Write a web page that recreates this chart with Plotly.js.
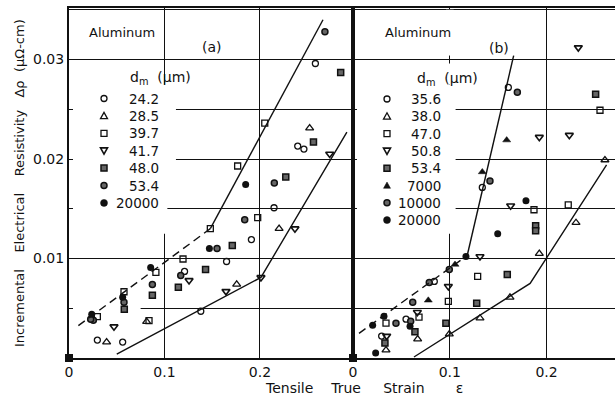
<!DOCTYPE html>
<html>
<head>
<meta charset="utf-8">
<script src="https://cdn.plot.ly/plotly-3.0.1.min.js"></script>
<style>html,body{margin:0;padding:0;background:#fff;}#chart{width:615px;height:399px;}</style>
</head>
<body>
<div id="chart"></div>
<script>
// ---------- Panel (a) data ----------
const aLabels = ["24.2", "28.5", "39.7", "41.7", "48.0", "53.4", "20000"];
const a242x = [0.258, 0.2395, 0.246, 0.2147, 0.191, 0.165, 0.121, 0.138, 0.0297, 0.0562];
const a242y = [0.0296, 0.0213, 0.0210, 0.0151, 0.0119, 0.0097, 0.0087, 0.0047, 0.0018, 0.0016];
const a285x = [0.252, 0.220, 0.1756, 0.0813, 0.0394];
const a285y = [0.0231, 0.0130, 0.0074, 0.00365, 0.0016];
const a397x = [0.205, 0.1766, 0.1976, 0.148, 0.1194, 0.091, 0.0838, 0.0576, 0.0297];
const a397y = [0.0236, 0.0193, 0.0141, 0.0130, 0.00995, 0.0086, 0.00375, 0.00666, 0.00415];
const a417x = [0.273, 0.2366, 0.201, 0.1644, 0.1257, 0.0471];
const a417y = [0.0205, 0.0130, 0.0081, 0.0067, 0.0078, 0.00315];
const a480x = [0.2845, 0.256, 0.227, 0.171, 0.143, 0.1145, 0.0873, 0.0579];
const a480y = [0.0287, 0.0217, 0.0182, 0.0113, 0.0089, 0.0071, 0.0063, 0.0049];
const a534x = [0.268, 0.215, 0.184, 0.155, 0.117, 0.0873, 0.0576, 0.0255, 0.0227];
const a534y = [0.0328, 0.0176, 0.0139, 0.0110, 0.0083, 0.0074, 0.0056, 0.0038, 0.0039];
const a20000x = [0.185, 0.147, 0.0855, 0.0562, 0.0238];
const a20000y = [0.01745, 0.0110, 0.0091, 0.0061, 0.0044];
const aUpperDashX = [0.0098, 0.148], aUpperDashY = [0.00325, 0.0130];
const aUpperSolidX = [0.148, 0.266], aUpperSolidY = [0.0130, 0.0340];
const aLowerX = [0.050, 0.201, 0.291], aLowerY = [0.0004, 0.0081, 0.0227];

// ---------- Panel (b) data ----------
const bLabels = ["35.6", "38.0", "47.0", "50.8", "53.4", "7000", "10000", "20000"];
const b356x = [0.1605, 0.1336, 0.084, 0.0548, 0.0296];
const b356y = [0.0272, 0.01715, 0.0077, 0.0039, 0.0022];
const b380x = [0.2603, 0.2304, 0.1925, 0.1622, 0.1312, 0.0995, 0.0668, 0.0341];
const b380y = [0.0199, 0.0136, 0.0105, 0.0061, 0.0040, 0.0024, 0.0019, 0.0008];
const b470x = [0.2552, 0.187, 0.2224, 0.1288, 0.0985, 0.0682, 0.0341];
const b470y = [0.0249, 0.0149, 0.0154, 0.0082, 0.0057, 0.0041, 0.0035];
const b508x = [0.2328, 0.1925, 0.2235, 0.1629, 0.1312, 0.0985, 0.0665, 0.0348];
const b508y = [0.0312, 0.0222, 0.0224, 0.0153, 0.0102, 0.0072, 0.0046, 0.0022];
const b534x = [0.2507, 0.1887, 0.1887, 0.1594, 0.1278, 0.096, 0.064, 0.033];
const b534y = [0.0265, 0.0133, 0.0128, 0.0084, 0.0055, 0.0035, 0.00265, 0.0015];
const b7000x = [0.1588, 0.1336, 0.1054, 0.0778];
const b7000y = [0.0219, 0.0187, 0.0094, 0.0058];
const b10000x = [0.1698, 0.1415, 0.0995, 0.0788, 0.0617, 0.0444, 0.0596];
const b10000y = [0.0267, 0.0178, 0.0089, 0.0076, 0.0056, 0.0035, 0.0037];
const b20000x = [0.1787, 0.1495, 0.1167, 0.032, 0.0203, 0.0589, 0.0234];
const b20000y = [0.0158, 0.0125, 0.0102, 0.0042, 0.0033, 0.0032, 0.0005];
const bUpperDashX = [0.0062, 0.118], bUpperDashY = [0.00248, 0.0103];
const bUpperSolidX = [0.118, 0.166], bUpperSolidY = [0.0103, 0.0304];
const bLowerX = [0.063, 0.183, 0.262], bLowerY = [0.0001, 0.0075, 0.0194];

const originX = [0], originY = [0];
const xTickVals = [0, 0.1, 0.2], xTickText = ["0", "0.1", "0.2"];
const yTickVals = [0.01, 0.02, 0.03], yTickText = ["0.01", "0.02", "0.03"];

const INK = "#111";
const FONT = "DejaVu Sans";
const ML = 69, MT = 8, PW = 546, PH = 350;
const PX = p => (p - ML) / PW;          // pixel x -> paper x
const PY = p => (MT + PH - p) / PH;     // pixel y -> paper y

const styles = {
  openCircle: {symbol: "circle-open", size: 6, color: INK, line: {width: 1.3, color: INK}},
  openTriUp: {symbol: "triangle-up-open", size: 7, color: INK, line: {width: 1.3, color: INK}},
  openSquare: {symbol: "square-open", size: 6, color: INK, line: {width: 1.3, color: INK}},
  openTriDown: {symbol: "triangle-down-open", size: 7, color: INK, line: {width: 1.6, color: INK}},
  darkSquare: {symbol: "square", size: 6, color: "#666", line: {width: 1.5, color: INK}},
  dotCircle: {symbol: "circle", size: 6, color: "#666", line: {width: 1.5, color: INK}},
  filledCircle: {symbol: "circle", size: 7, color: INK, line: {width: 0, color: INK}},
  filledTriUp: {symbol: "triangle-up", size: 7, color: INK, line: {width: 0.5, color: INK}}
};

function pts(name, x, y, style, xa, ya) {
  return {type: "scatter", mode: "markers", name: name, x: x, y: y,
    xaxis: xa, yaxis: ya, marker: styles[style], cliponaxis: false, showlegend: false};
}
function line(x, y, xa, ya, dash) {
  return {type: "scatter", mode: "lines", x: x, y: y, xaxis: xa, yaxis: ya,
    showlegend: false, hoverinfo: "skip", line: {color: INK, width: 1.4, dash: dash}};
}

const aStyles = ["openCircle", "openTriUp", "openSquare", "openTriDown", "darkSquare", "dotCircle", "filledCircle"];
const bStyles = ["openCircle", "openTriUp", "openSquare", "openTriDown", "darkSquare", "filledTriUp", "dotCircle", "filledCircle"];

const data = [
  pts(aLabels[0], a242x, a242y, aStyles[0], "x", "y"),
  pts(aLabels[1], a285x, a285y, aStyles[1], "x", "y"),
  pts(aLabels[2], a397x, a397y, aStyles[2], "x", "y"),
  pts(aLabels[3], a417x, a417y, aStyles[3], "x", "y"),
  pts(aLabels[4], a480x, a480y, aStyles[4], "x", "y"),
  pts(aLabels[5], a534x, a534y, aStyles[5], "x", "y"),
  pts(aLabels[6], a20000x, a20000y, aStyles[6], "x", "y"),
  line(aUpperDashX, aUpperDashY, "x", "y", "8px,5px"),
  line(aUpperSolidX, aUpperSolidY, "x", "y", "solid"),
  line(aLowerX, aLowerY, "x", "y", "solid"),
  pts(bLabels[0], b356x, b356y, bStyles[0], "x2", "y2"),
  pts(bLabels[1], b380x, b380y, bStyles[1], "x2", "y2"),
  pts(bLabels[2], b470x, b470y, bStyles[2], "x2", "y2"),
  pts(bLabels[3], b508x, b508y, bStyles[3], "x2", "y2"),
  pts(bLabels[4], b534x, b534y, bStyles[4], "x2", "y2"),
  pts(bLabels[5], b7000x, b7000y, bStyles[5], "x2", "y2"),
  pts(bLabels[6], b10000x, b10000y, bStyles[6], "x2", "y2"),
  pts(bLabels[7], b20000x, b20000y, bStyles[7], "x2", "y2"),
  line(bUpperDashX, bUpperDashY, "x2", "y2", "8px,5px"),
  line(bUpperSolidX, bUpperSolidY, "x2", "y2", "solid"),
  line(bLowerX, bLowerY, "x2", "y2", "solid"),
  {type: "scatter", mode: "markers", x: originX, y: originY, xaxis: "x", yaxis: "y", showlegend: false,
    cliponaxis: false, marker: {symbol: "square", size: 8, color: INK}},
  {type: "scatter", mode: "markers", x: originX, y: originY, xaxis: "x2", yaxis: "y2", showlegend: false,
    cliponaxis: false, marker: {symbol: "square", size: 8, color: INK}}
];

// ---------- grid gaps behind the legend blocks (as in the original drawing) ----------
function gap(xref, yref, x0, x1, y0, y1) {
  return {type: "rect", xref: xref, yref: yref, x0: x0, x1: x1, y0: y0, y1: y1,
    fillcolor: "#fff", line: {width: 0}, layer: "between"};
}
const shapes = [
  gap("x", "y", 0.003, 0.112, 0.0175, 0.0275),
  gap("x", "y", 0.003, 0.103, 0.0125, 0.0175),
  gap("x", "y", 0.003, 0.075, 0.0047, 0.0053),
  gap("x2", "y2", 0.003, 0.106, 0.0125, 0.0275),
  gap("x2", "y2", 0.096, 0.104, 0.0275, 0.0296),
  gap("x2", "y2", 0.096, 0.104, 0.0304, 0.0350)
];

// ---------- hand-built legends (symbol shapes + right-aligned labels) ----------
function legendSymbol(style, cx, cy) {
  const base = {xref: "paper", yref: "paper", xsizemode: "pixel", ysizemode: "pixel",
    xanchor: PX(cx), yanchor: PY(cy), layer: "above"};
  const open = {fillcolor: "rgba(0,0,0,0)", line: {color: INK, width: 1.3}};
  const dark = {fillcolor: "#666", line: {color: INK, width: 1.5}};
  const solid = {fillcolor: INK, line: {color: INK, width: 0.5}};
  switch (style) {
    case "openCircle": return Object.assign(base, open, {type: "circle", x0: -3, x1: 3, y0: -3, y1: 3});
    case "dotCircle": return Object.assign(base, dark, {type: "circle", x0: -3, x1: 3, y0: -3, y1: 3});
    case "filledCircle": return Object.assign(base, solid, {type: "circle", x0: -3.5, x1: 3.5, y0: -3.5, y1: 3.5});
    case "openSquare": return Object.assign(base, open, {type: "rect", x0: -3, x1: 3, y0: -3, y1: 3});
    case "darkSquare": return Object.assign(base, dark, {type: "rect", x0: -3, x1: 3, y0: -3, y1: 3});
    case "openTriUp": return Object.assign(base, open, {type: "path", path: "M-3.5,-2.8 L3.5,-2.8 L0,3.5 Z"});
    case "filledTriUp": return Object.assign(base, solid, {type: "path", path: "M-3.5,-2.8 L3.5,-2.8 L0,3.5 Z"});
    case "openTriDown": return Object.assign(base, open, {type: "path", path: "M-3.5,2.8 L3.5,2.8 L0,-3.5 Z", line: {color: INK, width: 1.6}});
  }
}
const legendTexts = [];
function buildLegend(labels, styleKeys, symX, textRight, y0, step) {
  labels.forEach((lab, i) => {
    const cy = y0 + i * step;
    shapes.push(legendSymbol(styleKeys[i], symX, cy));
    legendTexts.push({xref: "paper", yref: "paper", x: PX(textRight), y: PY(cy), xanchor: "right", yanchor: "middle",
      text: lab, showarrow: false, font: {family: FONT, size: 13.5, color: INK}});
  });
}
buildLegend(aLabels, aStyles, 104, 161, 98.5, 17.4);
buildLegend(bLabels, bStyles, 387, 443, 99, 17.3);

const split = 284 / 546;
const xCommon = {
  tickmode: "array", tickvals: xTickVals, ticktext: xTickText,
  showgrid: true, gridcolor: INK, gridwidth: 1, zeroline: false,
  showline: true, linecolor: INK, linewidth: 2, mirror: true,
  ticks: "", tickfont: {family: FONT, size: 14, color: INK}
};
const yCommon = {
  range: [0, 0.03518], tickmode: "array", tickvals: yTickVals, ticktext: yTickText,
  showgrid: true, gridcolor: INK, gridwidth: 1, zeroline: false,
  minor: {dtick: 0.005, tick0: 0, showgrid: true, gridcolor: INK, gridwidth: 1, ticks: "inside", ticklen: 4, tickcolor: INK},
  showline: true, linecolor: INK, linewidth: 2,
  ticks: "", tickfont: {family: FONT, size: 14, color: INK}
};

const layout = {
  width: 615, height: 399,
  margin: {l: ML, r: 0, t: MT, b: 41, pad: 0},
  paper_bgcolor: "#fff", plot_bgcolor: "#fff",
  font: {family: FONT, color: INK},
  showlegend: false,
  xaxis: Object.assign({}, xCommon, {domain: [0, split], range: [0, 0.2974], anchor: "y"}),
  yaxis: Object.assign({}, yCommon, {anchor: "x", mirror: true}),
  xaxis2: Object.assign({}, xCommon, {domain: [split, 1], range: [0, 0.2707], anchor: "y2"}),
  yaxis2: Object.assign({}, yCommon, {anchor: "x2", matches: "y", showticklabels: false, mirror: false}),
  shapes: shapes,
  annotations: legendTexts.concat([
    {xref: "paper", yref: "paper", x: PX(87), y: PY(33), xanchor: "left", yanchor: "middle",
      text: "Aluminum", showarrow: false, font: {family: FONT, size: 13, color: INK}},
    {xref: "paper", yref: "paper", x: PX(212), y: PY(47), xanchor: "center", yanchor: "middle",
      text: "(a)", showarrow: false, font: {family: FONT, size: 14, color: INK}},
    {xref: "paper", yref: "paper", x: PX(128), y: PY(78), xanchor: "left", yanchor: "middle",
      text: "d<sub>m</sub>  (μm)", showarrow: false, font: {family: FONT, size: 14, color: INK}},
    {xref: "paper", yref: "paper", x: PX(383), y: PY(33), xanchor: "left", yanchor: "middle",
      text: "Aluminum", showarrow: false, font: {family: FONT, size: 13, color: INK}},
    {xref: "paper", yref: "paper", x: PX(499), y: PY(48), xanchor: "center", yanchor: "middle",
      text: "(b)", showarrow: false, font: {family: FONT, size: 14, color: INK}},
    {xref: "paper", yref: "paper", x: PX(415), y: PY(79), xanchor: "left", yanchor: "middle",
      text: "d<sub>m</sub>  (μm)", showarrow: false, font: {family: FONT, size: 14, color: INK}},
    {xref: "paper", yref: "paper", x: PX(364), y: PY(388), xanchor: "center", yanchor: "middle",
      text: "Tensile    True     Strain       ε", showarrow: false, font: {family: FONT, size: 14, color: INK}},
    {xref: "paper", yref: "paper", x: PX(19), y: PY(183), xanchor: "center", yanchor: "middle",
      textangle: -90, text: "Incremental    Electrical    Resistivity   Δρ  (μΩ-cm)", showarrow: false,
      font: {family: FONT, size: 13, color: INK}}
  ])
};

Plotly.newPlot("chart", data, layout, {staticPlot: true, displayModeBar: false});
</script>
</body>
</html>
